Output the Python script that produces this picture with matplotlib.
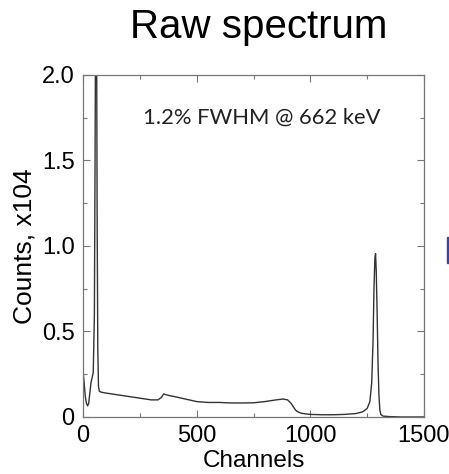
import numpy as np
import matplotlib
matplotlib.use("Agg")
import matplotlib.pyplot as plt
from matplotlib.ticker import MultipleLocator, FixedLocator
from matplotlib.patches import Rectangle

channels = [0, 5, 10, 15, 20, 25, 30, 35, 40, 45, 50, 53, 56, 59, 62, 65, 68,
            72, 80, 100, 150, 200, 250, 300, 330, 345, 355, 365, 380, 400, 450,
            500, 550, 600, 650, 700, 750, 800, 850, 880, 900, 915, 925, 935,
            945, 960, 980, 1000, 1050, 1100, 1150, 1200, 1230, 1250, 1262,
            1270, 1276, 1280, 1284, 1287, 1290, 1294, 1298, 1302, 1306, 1310,
            1320, 1350, 1400, 1450, 1500]
counts = [0.27, 0.2, 0.12, 0.08, 0.065, 0.08, 0.14, 0.2, 0.23, 0.26, 0.6, 1.5,
          2.6, 2.6, 1.2, 0.4, 0.18, 0.15, 0.145, 0.14, 0.13, 0.12, 0.11, 0.1,
          0.1, 0.115, 0.135, 0.13, 0.125, 0.12, 0.105, 0.09, 0.085, 0.085,
          0.082, 0.082, 0.083, 0.09, 0.1, 0.105, 0.1, 0.08, 0.06, 0.04, 0.03,
          0.022, 0.018, 0.015, 0.013, 0.013, 0.015, 0.02, 0.03, 0.05, 0.09,
          0.2, 0.45, 0.75, 0.93, 0.955, 0.85, 0.6, 0.3, 0.12, 0.04, 0.015,
          0.005, 0.002, 0.0, 0.0, 0.0]

x_ticks = [0, 500, 1000, 1500]
y_ticks = [0, 0.5, 1.0, 1.5, 2.0]
y_labels = ["0", "0.5", "1.0", "1.5", "2.0"]

plt.rcParams["font.family"] = ["Liberation Sans", "DejaVu Sans"]

fig = plt.figure(figsize=(4.49, 4.74), dpi=100)
ax = fig.add_axes([0.1849, 0.1203, 0.7594, 0.7215])

ax.plot(channels, counts, color="#333333", lw=1.0)

ax.set_xlim(0, 1500)
ax.set_ylim(0, 2.0)
ax.xaxis.set_major_locator(FixedLocator(x_ticks))
ax.xaxis.set_minor_locator(MultipleLocator(250))
ax.yaxis.set_major_locator(FixedLocator(y_ticks))
ax.yaxis.set_minor_locator(MultipleLocator(0.25))
ax.set_yticklabels(y_labels)

ax.tick_params(which="both", direction="in", top=True, right=True,
               color="#777777", width=0.8, labelsize=17)
ax.tick_params(which="major", length=5, pad=6)
ax.tick_params(which="minor", length=3)
for s in ax.spines.values():
    s.set_color("#777777")
    s.set_linewidth(0.9)

ax.set_xlabel("Channels", fontsize=17.5, labelpad=2)
ax.set_ylabel("Counts, x104", fontsize=19, labelpad=4)

ax.text(0.523, 0.875, "1.2% FWHM @ 662 keV", transform=ax.transAxes,
        ha="center", va="center", fontsize=15.8, family=["Lato", "DejaVu Sans"],
        color="#222222")

fig.text(0.577, 0.943, "Raw spectrum", ha="center", va="center", fontsize=29)

# Borde azul de la diapositiva
fig.patches.append(Rectangle((0.9955, 0.445), 0.006, 0.055,
                             transform=fig.transFigure, color="#3344aa"))

fig.savefig("out.png", dpi=100)
